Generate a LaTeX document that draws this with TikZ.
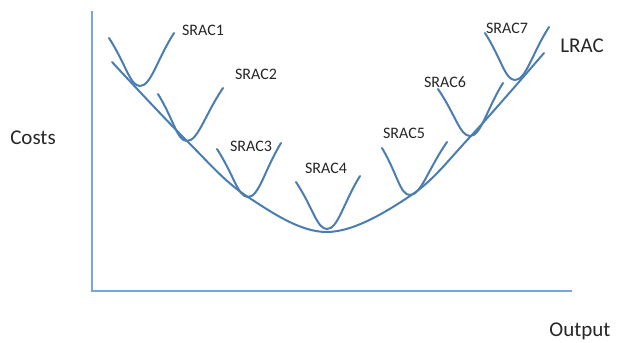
\documentclass[tikz,border=0pt]{standalone}
\usepackage{fontspec}
\setmainfont{Carlito}
\usetikzlibrary{calc}
\definecolor{axiscol}{HTML}{74A7DC}
\definecolor{curvecol}{HTML}{4A7DB0}
\tikzset{
  axisline/.style={draw=axiscol, line width=1.6pt},
  costcurve/.style={draw=curvecol, line width=2pt, line cap=round},
  sraclabel/.style={font=\fontsize{16}{18}\selectfont, text=black!85, inner sep=0pt},
  biglabel/.style={font=\fontsize{21}{23}\selectfont, text=black!85, inner sep=0pt},
}
\newcommand{\sracshape}[3]{%
  \draw[costcurve] (#1) .. controls ($(#1)!0.55!(#2)$) and ($(#2)+(-10,0)$) .. (#2)
     .. controls ($(#2)+(11,0)$) and ($(#3)!0.5!(#2)$) .. (#3);}
\begin{document}
\begin{tikzpicture}[x=1pt,y=-1pt]
\useasboundingbox (0,0) rectangle (617,342);
% axes
\coordinate (ytop) at (92,11);
\coordinate (origin) at (92,291);
\coordinate (xend) at (572,291);
\draw[axisline] (ytop) -- (origin) -- (xend);
% LRAC
\draw[costcurve] plot[smooth, tension=0.6] coordinates {(112,62) (187,141) (248,197) (327,232) (410,196) (470,137) (544,53)};
% SRAC curves
\coordinate (s1a) at (109,38);  \coordinate (s1m) at (140,86);  \coordinate (s1b) at (174,33);
\coordinate (s2a) at (158,94);  \coordinate (s2m) at (187,141); \coordinate (s2b) at (223,88);
\coordinate (s3a) at (217,149); \coordinate (s3m) at (248,197); \coordinate (s3b) at (281,143);
\coordinate (s4a) at (296,182); \coordinate (s4m) at (327,229); \coordinate (s4b) at (360,176);
\coordinate (s5a) at (382,148); \coordinate (s5m) at (410,195); \coordinate (s5b) at (447,142);
\coordinate (s6a) at (438,89);  \coordinate (s6m) at (470,136); \coordinate (s6b) at (503,83);
\coordinate (s7a) at (485,33);  \coordinate (s7m) at (515,80);  \coordinate (s7b) at (549,27);
\sracshape{s1a}{s1m}{s1b}
\sracshape{s2a}{s2m}{s2b}
\sracshape{s3a}{s3m}{s3b}
\sracshape{s4a}{s4m}{s4b}
\sracshape{s5a}{s5m}{s5b}
\sracshape{s6a}{s6m}{s6b}
\sracshape{s7a}{s7m}{s7b}
% labels
\node[sraclabel] (l1) at (203,30) {SRAC1};
\node[sraclabel] (l2) at (256,74) {SRAC2};
\node[sraclabel] (l3) at (251,146) {SRAC3};
\node[sraclabel] (l4) at (326,168) {SRAC4};
\node[sraclabel] (l5) at (404,133) {SRAC5};
\node[sraclabel] (l6) at (445,82) {SRAC6};
\node[sraclabel] (l7) at (507,28) {SRAC7};
\node[biglabel] (lrac) at (582,46) {LRAC};
\node[biglabel] (costs) at (33,138) {Costs};
\node[biglabel] (output) at (580,331) {Output};
\end{tikzpicture}
\end{document}
